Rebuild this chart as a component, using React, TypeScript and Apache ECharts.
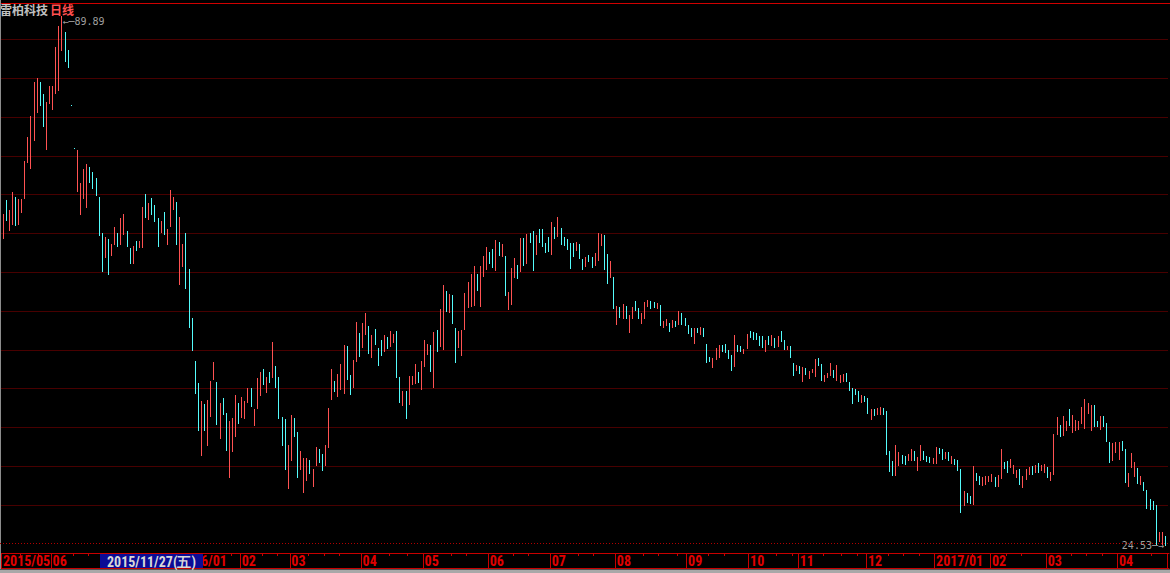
import React, { useEffect, useRef } from 'react';
import * as echarts from 'echarts';

// ---- Data (prices, log scale) ----
const stockName = '雷柏科技';
const periodName = '日线';
const cursorDate = '2015/11/27(五)';

const highs = [
  55.33,57.26,55.87,58.39,57.68,57.40,57.40,63.00,66.82,70.35,
  76.46,77.21,76.46,74.24,72.80,75.71,75.71,83.32,87.71,89.89,
  86.43,82.71,72.27,65.04,64.72,59.70,61.77,62.53,62.08,61.32,
  60.42,57.68,52.81,52.29,52.04,51.40,53.59,52.81,54.79,55.33,
  53.07,50.90,51.15,51.78,51.78,56.28,58.10,56.84,57.54,56.56,
  54.79,54.39,55.60,53.33,58.68,57.68,56.98,54.93,51.40,52.81,
  48.35,42.88,38.59,36.56,34.99,34.73,35.06,36.74,38.49,36.65,
  34.81,35.24,33.97,33.31,33.56,35.50,34.81,35.32,34.99,36.11,
  36.11,34.31,37.01,37.56,37.84,37.10,37.56,40.42,38.12,37.10,
  33.64,33.47,31.41,33.80,33.56,32.43,30.95,30.42,30.42,30.27,
  29.61,31.25,31.10,30.72,31.41,34.39,37.84,36.74,37.37,38.31,
  40.13,40.03,37.28,38.68,42.45,41.33,42.35,43.41,42.04,41.13,
  41.73,39.83,40.63,41.13,40.93,41.53,41.23,41.53,37.10,35.85,
  35.85,37.19,37.19,38.31,37.56,38.59,40.63,40.23,40.13,41.43,
  41.63,43.84,46.49,45.81,45.47,45.36,41.83,41.53,41.63,45.58,
  46.84,47.76,48.71,47.76,48.71,49.91,51.02,50.40,50.78,51.91,
  51.65,51.40,49.91,45.69,48.47,49.67,48.83,52.16,52.16,52.68,
  52.81,53.07,52.55,53.33,53.33,51.53,52.29,54.25,53.59,54.93,
  53.46,52.29,52.04,51.53,51.53,51.65,51.40,49.54,49.79,50.03,
  49.79,50.28,52.81,52.68,52.55,50.16,49.30,47.41,44.16,44.05,
  44.38,44.16,43.20,44.05,44.70,43.94,43.41,44.60,44.81,44.70,
  44.60,44.49,44.27,42.56,42.77,42.35,42.67,42.56,43.62,43.41,
  42.88,42.14,41.83,41.83,41.83,41.94,41.83,40.23,38.96,38.87,
  39.83,40.13,40.13,40.23,39.64,39.16,41.13,40.13,40.03,39.74,
  41.23,41.53,41.43,41.33,41.03,41.03,40.63,41.03,41.13,40.83,
  41.03,41.53,40.63,40.03,40.03,38.40,38.21,38.12,38.03,37.93,
  37.65,37.84,38.77,38.87,38.31,37.28,37.47,38.40,37.74,38.21,
  37.28,37.37,37.47,36.65,36.11,36.02,35.85,35.50,35.41,35.24,
  34.31,34.31,34.39,34.48,34.39,34.14,30.95,30.20,31.41,30.87,
  30.64,30.57,30.72,31.10,30.95,30.49,31.41,30.95,30.57,30.49,
  30.42,31.25,31.18,31.10,30.87,30.87,30.57,30.35,30.27,29.61,
  28.05,27.91,27.71,29.83,29.32,29.11,29.04,29.11,29.11,29.25,
  29.04,29.18,31.10,30.12,30.20,30.35,29.90,29.54,29.61,29.11,
  29.61,29.76,29.83,29.90,30.05,29.90,29.98,29.76,29.40,32.27,
  33.64,32.98,33.72,33.31,34.31,33.80,33.39,33.31,34.48,35.15,
  34.81,34.64,34.64,33.31,33.72,33.72,33.14,31.64,31.56,31.64,
  31.64,31.72,31.10,29.32,30.80,30.12,29.68,29.11,28.68,28.12,
  27.51,27.37,27.11,25.37,25.37,25.12
];

const lows = [
  52.04,54.39,53.07,53.85,53.72,53.85,55.47,57.40,62.69,61.77,
  66.17,70.87,72.09,68.47,64.72,72.44,71.39,74.24,74.79,82.49,
  80.30,79.13,72.27,65.04,58.39,55.19,57.40,56.14,59.70,58.83,
  57.82,52.42,48.00,49.67,47.65,49.91,51.28,51.02,51.28,52.55,
  51.02,48.95,48.95,50.53,50.90,50.90,54.79,54.52,55.19,54.25,
  51.02,52.81,52.55,51.28,53.59,55.87,51.28,46.49,48.59,46.04,
  41.83,39.54,35.58,32.51,30.57,32.51,31.33,33.64,36.83,32.98,
  31.87,33.80,30.95,28.97,30.87,32.03,33.06,33.56,33.47,34.81,
  34.48,32.90,34.31,35.41,36.38,35.67,36.56,37.01,36.11,33.47,
  31.33,29.54,28.19,30.20,32.03,28.97,29.54,27.91,28.76,29.25,
  28.33,29.83,30.05,29.47,29.83,31.18,35.06,35.76,35.32,35.94,
  35.58,36.83,35.50,36.11,38.49,38.96,39.83,41.13,39.25,38.87,
  40.13,38.12,39.06,39.44,39.74,39.93,40.33,37.01,34.81,34.56,
  33.47,34.64,36.38,36.47,36.56,35.94,38.03,39.16,37.56,36.11,
  39.44,39.93,39.64,43.51,43.41,42.25,38.40,39.83,39.06,41.63,
  43.94,44.05,44.16,45.81,44.05,47.41,48.23,48.95,48.47,48.12,
  49.91,49.79,45.25,43.73,44.27,47.30,47.18,48.00,48.71,48.95,
  51.53,48.12,50.03,51.53,51.02,50.28,50.40,50.03,52.04,52.29,
  51.28,51.15,50.65,48.35,49.79,50.53,49.54,48.23,48.59,49.19,
  48.47,48.71,49.30,51.15,48.23,46.61,47.30,43.84,42.14,42.88,
  42.77,42.77,41.33,42.77,43.62,42.77,42.25,42.77,44.05,43.84,
  43.94,43.84,42.04,41.83,42.04,41.43,41.83,41.94,42.14,42.14,
  42.04,41.23,40.93,40.23,41.33,41.13,40.93,38.40,38.49,37.93,
  38.68,38.87,39.44,39.35,38.77,37.65,38.03,39.44,39.44,39.25,
  39.74,40.83,40.63,40.63,40.03,39.83,39.44,40.13,40.03,39.83,
  39.93,40.43,39.64,39.64,38.87,37.19,37.65,37.37,36.65,37.28,
  36.92,37.47,37.10,38.12,36.74,36.65,37.01,37.19,37.01,36.74,
  36.56,36.65,36.65,35.85,34.73,35.50,34.90,34.81,34.90,33.89,
  33.39,33.72,33.80,33.80,33.80,30.64,29.40,29.11,29.11,29.83,
  29.98,29.90,30.20,30.20,30.20,29.47,30.20,30.27,30.12,30.05,
  29.98,29.98,30.72,30.27,30.35,30.20,29.98,29.90,29.47,26.58,
  27.04,27.24,27.17,27.11,28.76,28.47,28.40,28.47,28.68,28.68,
  28.33,28.33,28.90,29.61,29.32,29.68,29.25,28.97,28.47,28.26,
  28.83,29.18,29.18,29.32,29.32,29.47,29.32,28.97,28.76,29.18,
  32.19,32.03,32.11,32.51,32.90,32.35,32.51,32.58,33.06,32.66,
  33.89,32.51,32.82,32.82,32.58,32.82,31.64,30.05,30.20,30.80,
  30.27,30.95,28.61,28.33,29.68,29.04,28.54,28.47,28.05,26.84,
  26.78,26.78,24.57,24.75,24.58,24.53
];

// 1 = up day (red), 0 = down day (cyan)
const ups = [
  1,0,1,1,0,1,1,1,1,1, 1,1,0,0,1,1,1,1,1,1, 0,0,0,0,1,1,1,1,0,0, 0,0,0,1,0,1,1,0,1,1,
  0,0,1,0,1,1,0,1,0,0, 0,1,0,1,1,1,0,1,1,0, 0,0,0,0,1,0,1,1,1,0, 1,0,0,1,1,1,0,1,1,1,
  0,1,1,1,0,1,0,1,0,0, 0,0,1,1,0,0,1,1,1,0, 1,1,0,0,1,1,1,0,1,1, 1,0,0,1,1,0,1,1,0,1,
  0,0,0,1,0,1,1,0,0,1, 0,1,1,1,0,1,1,1,0,1, 0,1,1,0,1,0,0,1,1,1, 1,1,1,0,1,1,1,0,0,1,
  0,1,0,1,1,1,0,1,0,1, 0,0,1,0,0,0,0,1,0,1, 0,0,0,0,0,1,0,0,1,0, 0,1,1,1,0,0,1,0,1,0,
  1,0,1,1,0,0,1,1,1,0, 0,1,0,1,1,0,1,0,1,0, 0,0,0,1,0,1,0,0,0,1, 1,1,0,0,0,0,1,0,0,1,
  1,0,0,0,0,0,1,0,1,0, 1,0,0,1,0,0,1,0,1,0, 1,1,1,0,0,1,1,1,0,1, 1,1,0,0,0,0,0,1,0,0,
  1,0,1,1,0,0,0,0,1,1, 0,0,1,1,0,1,1,0,0,0, 1,1,0,0,1,0,1,0,0,0, 1,0,0,1,0,0,1,1,1,1,
  0,1,1,0,0,1,1,1,0,1, 1,1,0,1,0,1,1,0,1,1, 1,0,1,1,0,1,1,1,1,1, 1,1,0,0,1,0,0,0,1,1,
  1,0,0,1,1,1,0,1,0,0, 0,0,0,1,1,0
];

// Month separators (index of first trading day shown in that month) and their labels
const monthStarts = [0, 16, 57, 77, 93, 116, 136, 157, 177, 198, 221, 241, 257, 279, 301, 319, 337, 360];
const monthLabels = ['2015/05', '06', '2016/01', '02', '03', '04', '05', '06', '07', '08', '09', '10', '11', '12', '2017/01', '02', '03', '04'];
// Small ticks on the date band
const weekTicks = [6, 12, 23, 28, 74, 84, 89, 99, 104, 109, 125, 131, 145, 150, 165, 170, 186, 191, 207, 212, 218, 228, 233, 250, 255, 265, 271, 276, 286, 291, 296, 313, 324, 329, 345, 350, 355, 371];

const maxIndex = 19;
const maxValue = 89.89;
const minIndex = 375;
const minValue = 24.53;

// ---- Styling ----
const UP = '#ff5252';
const DOWN = '#54fcfc';
const AXIS_RED = '#c80000';
const LABEL_RED = '#e00000';
const GRID_RED = '#480000';
const AXIS_FONT = '"Liberation Sans Narrow", "Roboto Condensed", "DejaVu Sans Condensed", "Liberation Sans", Arial, sans-serif';

const categories = highs.map((_, i) => String(i));
const monthMap = new Map<number, string>();
monthStarts.forEach((idx, k) => monthMap.set(idx, monthLabels[k]));
const weekSet = new Set(weekTicks);

const candleData = highs.map((h, i) => [i, h, lows[i], ups[i]]);

const gridLeft = 1.45;
const gridWidth = 1165.6;

function buildOption(): any {
  return {
    animation: false,
    backgroundColor: '#000000',
    title: {
      text: '{a|' + stockName + '}{b|' + periodName + '}',
      left: 0,
      top: 3,
      padding: 0,
      textStyle: {
        rich: {
          a: { color: '#c0c0c0', fontSize: 12, fontFamily: '"Noto Sans CJK SC", sans-serif', lineHeight: 13 },
          b: { color: '#ff5050', fontSize: 12, fontFamily: '"Noto Sans CJK SC", sans-serif', lineHeight: 13, padding: [0, 0, 0, 2] },
        },
      },
    },
    grid: [
      { left: gridLeft, width: gridWidth, top: 16, height: 530, outerBoundsMode: 'none' },
      { left: 0, width: 1168, top: 0.5, height: 543.4, outerBoundsMode: 'none' },
      { left: 0, width: 1169, top: 553, height: 15, outerBoundsMode: 'none' },
      { left: gridLeft, width: gridWidth, top: 553, height: 15, outerBoundsMode: 'none' },
      { left: gridLeft, width: gridWidth, top: 553, height: 15, outerBoundsMode: 'none' },
    ],
    xAxis: [
      { type: 'category', gridIndex: 0, data: categories, boundaryGap: true, show: false },
      { type: 'value', gridIndex: 1, show: false, min: 0, max: 1 },
      // band frame: top and bottom red lines
      {
        type: 'value',
        gridIndex: 2,
        min: 0,
        max: 1,
        position: 'top',
        axisLine: { show: true, onZero: false, lineStyle: { color: AXIS_RED, width: 1 } },
        axisTick: { show: false },
        axisLabel: { show: false },
        splitLine: { show: false },
      },
      {
        type: 'value',
        gridIndex: 2,
        min: 0,
        max: 1,
        position: 'bottom',
        axisLine: { show: true, onZero: false, lineStyle: { color: AXIS_RED, width: 1 } },
        axisTick: { show: false },
        axisLabel: { show: false },
        splitLine: { show: false },
      },
      // month separators + labels
      {
        type: 'category',
        gridIndex: 3,
        data: categories,
        boundaryGap: true,
        position: 'top',
        axisLine: { show: false, onZero: false },
        axisTick: {
          show: true,
          inside: true,
          length: 15,
          interval: (index: number) => monthMap.has(index),
          lineStyle: { color: AXIS_RED, width: 1 },
        },
        axisLabel: {
          show: true,
          inside: true,
          showMinLabel: true,
          hideOverlap: false,
          interval: (index: number) => monthMap.has(index),
          formatter: (_v: string, index: number) => monthMap.get(index) ?? '',
          align: 'left',
          verticalAlign: 'middle',
          margin: 8,
          color: LABEL_RED,
          fontSize: 14,
          fontWeight: 'bold',
          fontFamily: AXIS_FONT,
        },
        splitLine: { show: false },
      },
      // small ticks
      {
        type: 'category',
        gridIndex: 4,
        data: categories,
        boundaryGap: true,
        position: 'top',
        axisLine: { show: false, onZero: false },
        axisTick: {
          show: true,
          inside: true,
          length: 3,
          interval: (index: number) => weekSet.has(index),
          lineStyle: { color: AXIS_RED, width: 1 },
        },
        axisLabel: { show: false },
      },
    ],
    yAxis: [
      { type: 'log', gridIndex: 0, min: 24.51, max: 89.89, show: false },
      {
        type: 'value',
        gridIndex: 1,
        min: 0,
        max: 14,
        interval: 1,
        inverse: true,
        axisLine: { show: false },
        axisTick: { show: false },
        axisLabel: { show: false },
        splitLine: { show: true, showMinLine: false, showMaxLine: false, lineStyle: { color: GRID_RED, width: 1 } },
      },
      { type: 'value', gridIndex: 2, min: 0, max: 1, show: false },
      { type: 'value', gridIndex: 3, min: 0, max: 1, show: false },
      { type: 'value', gridIndex: 4, min: 0, max: 1, show: false },
    ],
    series: [
      {
        type: 'custom',
        xAxisIndex: 0,
        yAxisIndex: 0,
        clip: false,
        data: candleData,
        encode: { x: 0, y: [1, 2] },
        renderItem: (_params: any, api: any) => {
          const idx = api.value(0);
          const hi = api.value(1);
          const lo = api.value(2);
          const up = api.value(3);
          const pHi = api.coord([idx, hi]);
          const pLo = api.coord([idx, lo]);
          const x = Math.floor(pHi[0]);
          const y1 = Math.round(pHi[1]);
          let y2 = Math.round(pLo[1]);
          if (y2 - y1 < 1) y2 = y1 + 1;
          return {
            type: 'rect',
            shape: { x, y: y1, width: 1, height: y2 - y1 },
            style: { fill: up ? UP : DOWN },
          };
        },
        z: 5,
      },
      {
        type: 'scatter',
        xAxisIndex: 0,
        yAxisIndex: 0,
        clip: false,
        symbolSize: 1,
        itemStyle: { color: 'rgba(0,0,0,0)' },
        silent: true,
        z: 6,
        data: [
          {
            value: [maxIndex, maxValue],
            label: {
              show: true,
              position: 'right',
              distance: 0,
              offset: [0, 5],
              formatter: '←─' + maxValue.toFixed(2),
              color: '#c8c8c8',
              fontSize: 10,
              fontFamily: '"DejaVu Sans Mono", monospace',
            },
          },
          {
            value: [minIndex, minValue],
            label: {
              show: true,
              position: 'left',
              distance: 0,
              offset: [-1, 0],
              formatter: minValue.toFixed(2) + '─→',
              color: '#c8c8c8',
              fontSize: 10,
              fontFamily: '"DejaVu Sans Mono", monospace',
            },
          },
        ],
      },
    ],
    graphic: [
      { type: 'line', z: 50, silent: true, shape: { x1: 0, y1: 3.5, x2: 1170, y2: 3.5 }, style: { stroke: '#d00000', lineWidth: 1 } },
      { type: 'line', z: 50, silent: true, shape: { x1: 0.5, y1: 0, x2: 0.5, y2: 569 }, style: { stroke: '#8c8c8c', lineWidth: 1 } },
      { type: 'line', z: 50, silent: true, shape: { x1: 0, y1: 543.5, x2: 1168, y2: 543.5 }, style: { stroke: '#b00000', lineWidth: 1, lineDash: [1, 2] } },
      { type: 'rect', z: 50, silent: true, shape: { x: 0, y: 569.5, width: 1170, height: 4 }, style: { fill: '#a8a8a8' } },
      { type: 'rect', z: 100, silent: true, shape: { x: 100, y: 554, width: 103, height: 14 }, style: { fill: '#0c0c96' } },
      {
        type: 'text',
        z: 101,
        silent: true,
        x: 151.5,
        y: 561.5,
        style: {
          text: cursorDate,
          fill: '#d8d8d8',
          fontSize: 14,
          fontWeight: 'bold',
          fontFamily: AXIS_FONT,
          align: 'center',
          verticalAlign: 'middle',
        },
      },
    ],
  };
}

export default function App() {
  const ref = useRef<HTMLDivElement>(null);
  useEffect(() => {
    document.body.style.margin = '0';
    document.body.style.background = '#000';
    const chart = echarts.init(ref.current as HTMLDivElement, null, { renderer: 'svg' });
    chart.setOption(buildOption());
    return () => chart.dispose();
  }, []);
  return <div ref={ref} style={{ width: 1170, height: 573, background: '#000' }} />;
}
